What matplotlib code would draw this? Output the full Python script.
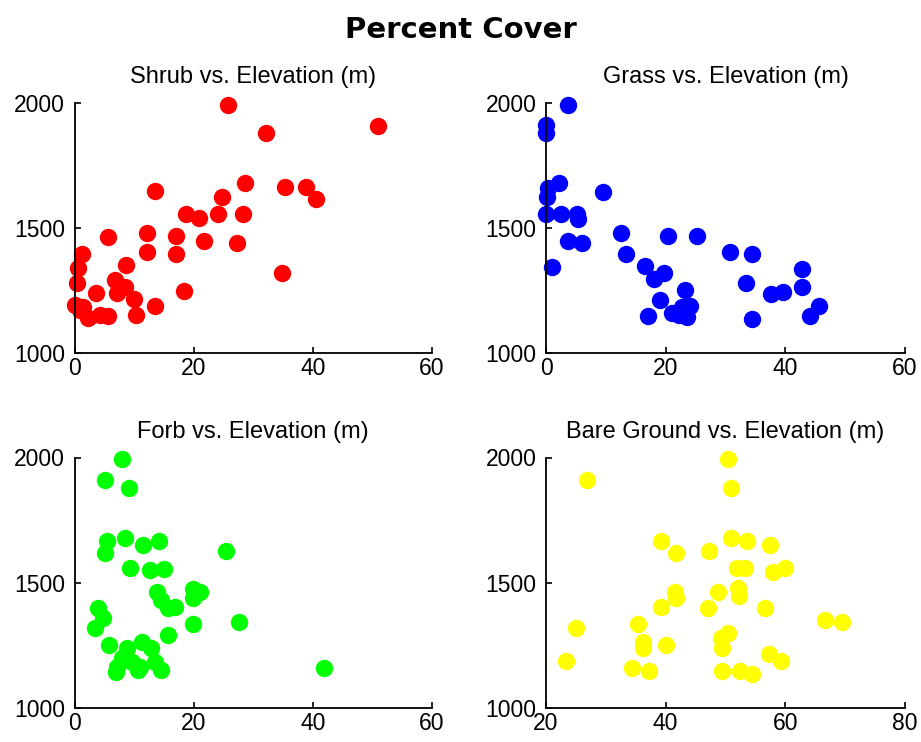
import matplotlib
matplotlib.use("Agg")
import matplotlib.pyplot as plt

# ---- data ----
shrub_x = [25.7, 32.1, 51.0, 13.5, 28.6, 24.8, 35.3, 38.8, 40.5, 34.9, 18.7, 20.9, 24.1,
           28.3, 21.8, 27.3, 17.0, 12.2, 5.6, 12.2, 17.0, 18.3, 13.5, 8.6, 1.3, 0.6, 0.4,
           6.8, 8.5, 7.2, 3.6, 10.0, 0.0, 1.5, 2.3, 4.2, 5.6, 10.3, 0.9]
shrub_y = [1990, 1877, 1907, 1648, 1680, 1624, 1661, 1664, 1615, 1319, 1555, 1538, 1555,
           1555, 1448, 1440, 1468, 1480, 1464, 1402, 1395, 1249, 1189, 1351, 1395, 1338, 1281,
           1291, 1265, 1241, 1238, 1214, 1192, 1185, 1138, 1152, 1149, 1152, 1172]

grass_x = [3.7, 0.0, 0.0, 2.1, 0.4, 0.1, 9.5, 0.0, 2.5, 5.1, 5.4, 3.7, 6.1, 0.95, 12.6,
           13.4, 20.4, 25.2, 30.7, 34.4, 33.4, 37.6, 39.6, 42.8, 42.8, 45.7, 44.1, 34.4,
           16.6, 19.8, 18.1, 19.1, 23.3, 17.1, 21.1, 22.8, 24.1, 23.5, 22.3]
grass_y = [1990, 1910, 1877, 1677, 1657, 1624, 1644, 1555, 1555, 1555, 1535, 1448, 1440,
           1342, 1478, 1394, 1467, 1467, 1402, 1395, 1281, 1236, 1242, 1334, 1265, 1188,
           1149, 1134, 1349, 1321, 1295, 1212, 1251, 1149, 1161, 1185, 1188, 1145, 1152]

forb_x = [8.0, 5.1, 9.2, 5.4, 5.1, 8.4, 11.5, 14.2, 9.3, 12.6, 15.0, 13.8, 14.6, 15.7,
          16.9, 19.9, 21.1, 19.9, 25.4, 27.6, 19.9, 3.9, 4.7, 3.4, 15.7, 5.8, 8.8, 11.4,
          12.8, 7.9, 9.6, 11.0, 13.5, 7.0, 7.2, 14.6, 41.8, 10.7]
forb_y = [1995, 1911, 1878, 1665, 1618, 1678, 1649, 1665, 1558, 1551, 1555, 1465, 1432,
          1398, 1402, 1475, 1465, 1438, 1627, 1345, 1336, 1398, 1358, 1318, 1292, 1252,
          1238, 1265, 1238, 1198, 1185, 1165, 1185, 1145, 1165, 1151, 1158, 1151]

bare_x = [50.5, 51.0, 26.9, 39.3, 41.7, 47.3, 51.0, 48.7, 41.6, 41.8, 39.3, 47.0, 25.0,
          23.3, 35.3, 36.2, 36.2, 40.0, 34.3, 37.2, 49.4, 50.4, 49.3, 49.4, 53.6, 57.5,
          51.9, 53.3, 58.0, 60.0, 52.1, 52.3, 56.6, 66.7, 69.5, 57.3, 59.3, 52.5, 54.5]
bare_y = [1995, 1878, 1911, 1665, 1618, 1627, 1678, 1465, 1465, 1441, 1402, 1398, 1320,
          1189, 1334, 1265, 1238, 1252, 1161, 1149, 1149, 1298, 1278, 1238, 1665, 1649,
          1558, 1558, 1544, 1558, 1481, 1449, 1398, 1351, 1345, 1214, 1188, 1149, 1134]

titles = ["Shrub vs. Elevation (m)", "Grass vs. Elevation (m)",
          "Forb vs. Elevation (m)", "Bare Ground vs. Elevation (m)"]
xlims = [(0, 60), (0, 60), (0, 60), (20, 80)]
xticks = [[0, 20, 40, 60], [0, 20, 40, 60], [0, 20, 40, 60], [20, 40, 60, 80]]
yticks = [1000, 1500, 2000]
colors = ["#ff0000", "#0000ff", "#00ff00", "#ffff00"]
xs = [shrub_x, grass_x, forb_x, bare_x]
ys = [shrub_y, grass_y, forb_y, bare_y]

W, H = 921, 742
fig = plt.figure(figsize=(W / 100, H / 100), dpi=100)
fig.patch.set_facecolor("white")

# axes rectangles in pixels: (left, top, right, bottom)
rects = [(74.5, 102.5, 432, 353), (546, 102.5, 905, 353),
         (74.5, 457.5, 432, 708), (546, 457.5, 905, 708)]

tick_font = "Liberation Sans"
for i in range(4):
    l, t, r, b = rects[i]
    ax = fig.add_axes([l / W, 1 - b / H, (r - l) / W, (b - t) / H])
    ax.plot(xs[i], ys[i], linestyle="none", marker="o", markersize=11.5,
            markerfacecolor=colors[i], markeredgecolor=colors[i], clip_on=False)
    ax.set_xlim(*xlims[i])
    ax.set_ylim(1000, 2000)
    ax.set_xticks(xticks[i])
    ax.set_yticks(yticks)
    for s in ("top", "right"):
        ax.spines[s].set_visible(False)
    for s in ("left", "bottom"):
        ax.spines[s].set_linewidth(1.3)
        ax.spines[s].set_color("black")
    ax.tick_params(direction="in", length=4, width=1.2, labelsize=16.5)
    ax.tick_params(axis="x", pad=3)
    ax.tick_params(axis="y", pad=7)
    for lab in ax.get_xticklabels() + ax.get_yticklabels():
        lab.set_fontfamily(tick_font)
    ax.set_title(titles[i], fontsize=17, family=tick_font, pad=14)

fig.text(0.5, 1 - 30 / H, "Percent Cover", ha="center", va="center",
         fontsize=21, fontweight="bold", family="DejaVu Sans")

fig.savefig("out.png", dpi=100, facecolor="white")
